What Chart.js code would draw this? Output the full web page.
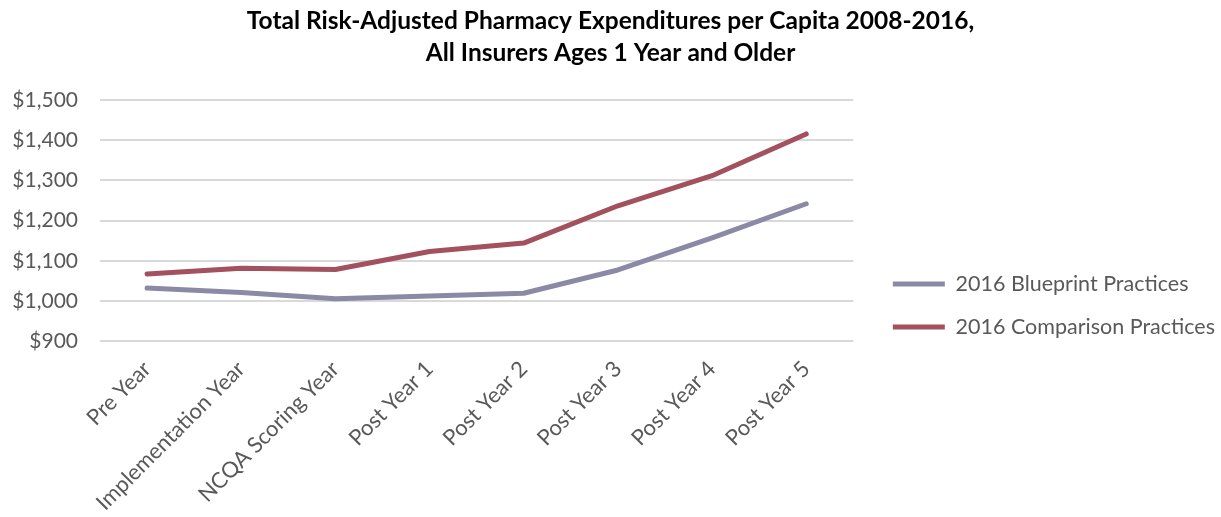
<!DOCTYPE html>
<html>
<head>
<meta charset="utf-8">
<script src="https://cdn.jsdelivr.net/npm/chart.js@4.4.1/dist/chart.umd.min.js"></script>
<style>
  html, body { margin: 0; padding: 0; background: #fff; }
  #wrap { width: 1221px; height: 517px; }
</style>
</head>
<body>
<div id="wrap"><canvas id="pharmacyChart" width="1221" height="517"></canvas></div>
<script>
const years = ['Pre Year', 'Implementation Year', 'NCQA Scoring Year', 'Post Year 1', 'Post Year 2', 'Post Year 3', 'Post Year 4', 'Post Year 5']
const blueprint = [1032, 1021, 1005, 1012, 1019, 1077, 1157, 1242]
const comparison = [1067, 1081, 1078, 1123, 1144, 1237, 1312, 1416]
const yTicks = [900, 1000, 1100, 1200, 1300, 1400, 1500]

const font = 'Lato, "Open Sans", sans-serif'
const grey = '#595959'

// nudge the legend and title a little, like the Excel layout
const nudge = {
  id: 'nudge',
  afterLayout(chart) {
    const lg = chart.legend
    lg.left += 18; lg.right += 18
    lg.top += 47; lg.bottom += 47
    chart.titleBlock.left += 7; chart.titleBlock.right += 7
  }
}

const ctx = document.getElementById('pharmacyChart').getContext('2d');
const config = {
  type: 'line',
  data: {
    labels: years,
    datasets: [{
      label: '2016 Blueprint Practices',
      data: blueprint,
      borderColor: '#8a89a6',
      backgroundColor: '#8a89a6',
      borderWidth: 5,
      pointRadius: 0,
      tension: 0,
      borderCapStyle: 'round',
      borderJoinStyle: 'round'
    }, {
      label: '2016 Comparison Practices',
      data: comparison,
      borderColor: '#a3515f',
      backgroundColor: '#a3515f',
      borderWidth: 5,
      pointRadius: 0,
      tension: 0,
      borderCapStyle: 'round',
      borderJoinStyle: 'round'
    }]
  },
  options: {
    responsive: false,
    animation: false,
    layout: { padding: { right: 14 } },
    scales: {
      x: {
        offset: true,
        grid: { display: false, drawTicks: false },
        border: { display: false },
        ticks: {
          color: grey,
          font: { family: font, size: 22 },
          maxRotation: 45,
          minRotation: 45,
          padding: 15,
          autoSkip: false
        },
        afterFit: scale => { scale.height = 176 }
      },
      y: {
        min: yTicks[0],
        max: yTicks[yTicks.length - 1],
        afterBuildTicks: scale => { scale.ticks = yTicks.map(v => ({ value: v })) },
        grid: { color: '#d9d9d9', lineWidth: 2, drawTicks: false },
        border: { display: false },
        ticks: {
          color: grey,
          font: { family: font, size: 21 },
          padding: 22,
          callback: v => '$' + v.toLocaleString('en-US')
        },
        afterFit: scale => { scale.width = 100 }
      }
    },
    plugins: {
      title: {
        display: true,
        text: ['Total Risk-Adjusted Pharmacy Expenditures per Capita 2008-2016,', 'All Insurers Ages 1 Year and Older'],
        color: '#000',
        font: { family: font, size: 24.5, weight: 'bold', lineHeight: 1.27 },
        padding: { top: 6, bottom: 32 }
      },
      legend: {
        position: 'right',
        maxWidth: 420,
        labels: {
          color: grey,
          font: { family: font, size: 21.5 },
          boxWidth: 52,
          boxHeight: 5,
          padding: 21.5,
          generateLabels: chart => Chart.defaults.plugins.legend.labels.generateLabels(chart).map(l => ({ ...l, lineWidth: 0 }))
        }
      },
      tooltip: { enabled: false }
    }
  },
  plugins: [nudge]
};
const pharmacyChart = new Chart(ctx, config);
</script>
</body>
</html>
